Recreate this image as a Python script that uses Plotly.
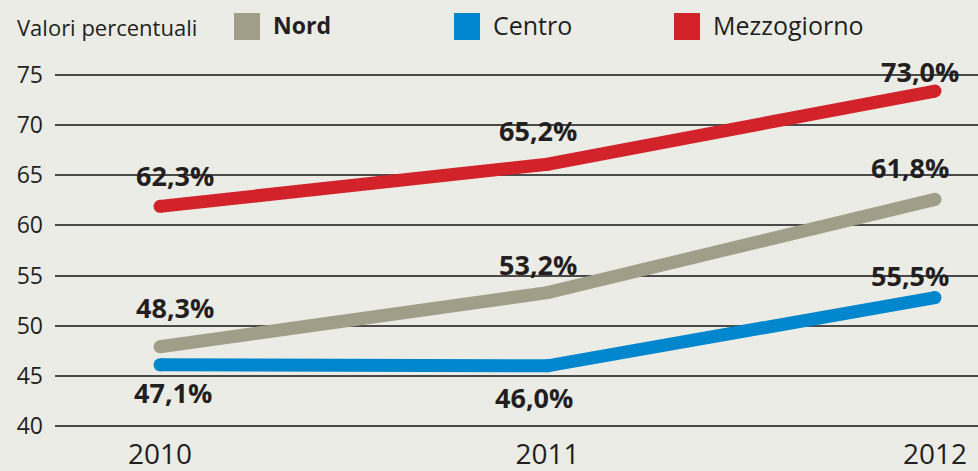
import plotly.graph_objects as go

years = [2010, 2011, 2012]
series_names = ["Nord", "Centro", "Mezzogiorno"]
series_colors = ["#a09e88", "#0086cc", "#d2232b"]
# drawn positions of the lines
nord_values = [47.9, 53.3, 62.6]
centro_values = [46.1, 46.0, 52.8]
mezzogiorno_values = [61.9, 66.1, 73.4]
# printed labels
nord_labels = ["48,3%", "53,2%", "61,8%"]
centro_labels = ["47,1%", "46,0%", "55,5%"]
mezzogiorno_labels = ["62,3%", "65,2%", "73,0%"]
y_ticks = [40, 45, 50, 55, 60, 65, 70, 75]
x_ticks = ["2010", "2011", "2012"]
y_title = "Valori percentuali"

values = [nord_values, centro_values, mezzogiorno_values]
labels = [nord_labels, centro_labels, mezzogiorno_labels]
# label offsets (px) relative to each point
xshifts = [[15, -10, -25], [13, -14, -25], [15, -10, -15]]
yshifts = [[39, 28, 32], [-28, -32, 22], [31, 34, 20]]

FONT = "Open Sans"
TXT = "#231f20"

fig = go.Figure()
for name, col, vals in zip(series_names, series_colors, values):
    fig.add_trace(go.Scatter(
        x=years, y=vals, mode="lines+markers", name=name,
        line=dict(color=col, width=13),
        marker=dict(color=col, size=13, line=dict(width=0)),
        showlegend=False, hoverinfo="skip"))

annotations = []
for i in range(3):
    for j, yr in enumerate(years):
        annotations.append(dict(
            x=yr, y=values[i][j], xref="x", yref="y", text=labels[i][j],
            showarrow=False, xshift=xshifts[i][j], yshift=yshifts[i][j],
            font=dict(family=FONT, size=27, color=TXT, weight=700)))

# legend drawn as squares + text above the plot
W = 978 - 55
H = 432 - 50
def px(xp):
    return (xp - 55) / W
def py(yp):
    return (432 - yp) / H

shapes = []
leg_x = [234, 454, 674]
weights = [700, 500, 500]
sizes = [23, 25, 25]
for k, (name, col) in enumerate(zip(series_names, series_colors)):
    shapes.append(dict(type="rect", xref="paper", yref="paper",
                       x0=px(leg_x[k]), x1=px(leg_x[k] + 26),
                       y0=py(40), y1=py(13), fillcolor=col, line=dict(width=0)))
    annotations.append(dict(x=px(leg_x[k] + 37), y=py(25), xref="paper", yref="paper",
                            xanchor="left", yanchor="middle", showarrow=False,
                            text=name, font=dict(family=FONT, size=sizes[k], color=TXT, weight=weights[k])))
annotations.append(dict(x=px(15), y=py(27), xref="paper", yref="paper",
                        xanchor="left", yanchor="middle", showarrow=False,
                        text=y_title, font=dict(family=FONT, size=22, color=TXT, weight=400)))

fig.update_layout(
    width=978, height=471,
    margin=dict(l=55, r=0, t=50, b=39),
    paper_bgcolor="#ecece6", plot_bgcolor="#ecece6",
    annotations=annotations, shapes=shapes,
    font=dict(family=FONT, color=TXT),
)
fig.update_xaxes(range=[2009.729, 2012.111], tickvals=years, ticktext=x_ticks,
                 showgrid=False, zeroline=False, showline=False,
                 tickfont=dict(size=28, family=FONT, color=TXT), ticks="", ticklabelstandoff=3)
fig.update_yaxes(range=[39.4, 77.49], tickvals=y_ticks, showgrid=True, gridcolor="#4a4a4a",
                 gridwidth=1.5, zeroline=False, showline=False,
                 tickfont=dict(size=23, family=FONT, color=TXT), ticks="", ticklabelstandoff=11)

fig.write_html("out.html", config={"displayModeBar": False},
               post_script="document.body.style.margin='0';document.body.style.padding='0';")
